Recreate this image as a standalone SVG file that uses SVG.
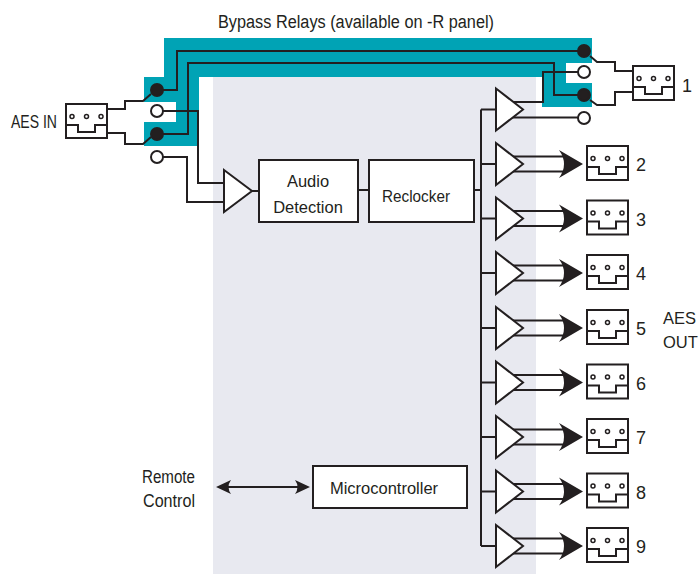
<svg xmlns="http://www.w3.org/2000/svg" xmlns:xlink="http://www.w3.org/1999/xlink" width="699" height="574" viewBox="0 0 699 574">
<style>
.w{fill:none;stroke:#231f20;stroke-width:2}
.box{fill:#fff;stroke:#231f20;stroke-width:2}
.amp{fill:#fff;stroke:#231f20;stroke-width:2;stroke-linejoin:miter}
.on{fill:#231f20;stroke:#231f20;stroke-width:2}
.off{fill:#fff;stroke:#231f20;stroke-width:2}
.ah{fill:#231f20}
.t{font-family:"Liberation Sans",Arial,sans-serif;fill:#231f20}
.lg{font-size:18px}
.md{font-size:16.5px}
</style>
<defs>
<symbol id="conn" overflow="visible">
<rect x="0" y="0" width="41" height="34" fill="#fff" stroke="#231f20" stroke-width="2"/>
<path d="M0,21H12V28H29V21H41" fill="none" stroke="#231f20" stroke-width="2"/>
<circle cx="6" cy="12.5" r="2" fill="#fff" stroke="#231f20" stroke-width="1.5"/>
<circle cx="20.5" cy="12.5" r="2" fill="#fff" stroke="#231f20" stroke-width="1.5"/>
<circle cx="35" cy="12.5" r="2" fill="#fff" stroke="#231f20" stroke-width="1.5"/>
</symbol>
</defs>

<!-- backgrounds -->
<rect x="213" y="77" width="323" height="497" fill="#e8e9f0"/>
<path d="M164,38H592V63H566V83H592V107H542V77H199V146H144V122H176V102H144V77H164Z" fill="#00a3b5"/>

<text class="t lg" x="218" y="28" textLength="276" lengthAdjust="spacingAndGlyphs">Bypass Relays (available on -R panel)</text>

<g id="connectors">
<!-- AES IN to left relay -->
<path class="w" d="M108,109H125V101H143L151,94"/>
<path class="w" d="M108,133H125V144H143L151,137"/>
<!-- left relay contacts -->
<path class="w" d="M157,90H177V51H584"/>
<path class="w" d="M157,134H188V63H554V95H584"/>
<path class="w" d="M157,111H198V183H226"/>
<path class="w" d="M157,157H187V202H226"/>
<!-- input amp to boxes -->
<path class="w" d="M252,191H259"/>
<path class="w" d="M358,190H369"/>
<path class="w" d="M474,190H481"/>
<!-- bus -->
<path class="w" d="M481,109.5V546"/>
<path class="w" d="M481,109.5H496M481,164H496M481,218.5H496M481,273H496M481,328H496M481,382.5H496M481,437H496M481,491.5H496M481,546H496"/>
<!-- amp 1 to right relay -->
<path class="w" d="M508,102H543V72H584"/>
<path class="w" d="M508,117.5H584"/>
<!-- right relay to connector 1 -->
<path class="w" d="M590,56L597,62H615V71H633"/>
<path class="w" d="M590,100L597,105H615V92H633"/>
<!-- outputs 2..9 -->
<path class="w" d="M508,156.5H565M508,171.5H565"/>
<path class="w" d="M508,211H565M508,226H565"/>
<path class="w" d="M508,265.5H565M508,280.5H565"/>
<path class="w" d="M508,320.5H565M508,335.5H565"/>
<path class="w" d="M508,375H565M508,390H565"/>
<path class="w" d="M508,429.5H565M508,444.5H565"/>
<path class="w" d="M508,484H565M508,499H565"/>
<path class="w" d="M508,538.5H565M508,553.5H565"/>
<path class="ah" d="M559,150L583,164L559,178Q569,164 559,150Z"/>
<path class="ah" d="M559,204.5L583,218.5L559,232.5Q569,218.5 559,204.5Z"/>
<path class="ah" d="M559,259L583,273L559,287Q569,273 559,259Z"/>
<path class="ah" d="M559,314L583,328L559,342Q569,328 559,314Z"/>
<path class="ah" d="M559,368.5L583,382.5L559,396.5Q569,382.5 559,368.5Z"/>
<path class="ah" d="M559,423L583,437L559,451Q569,437 559,423Z"/>
<path class="ah" d="M559,477.5L583,491.5L559,505.5Q569,491.5 559,477.5Z"/>
<path class="ah" d="M559,532L583,546L559,560Q569,546 559,532Z"/>
<!-- remote control -->
<path class="w" d="M222,487H304"/>
<path class="ah" d="M216,487L231,480Q226,487 231,494Z"/>
<path class="ah" d="M310,487L295,480Q300,487 295,494Z"/>
</g>

<g id="aes-in">
<use xlink:href="#conn" x="66" y="104"/>
<text class="t lg" x="11" y="128" textLength="46" lengthAdjust="spacingAndGlyphs">AES IN</text>
</g>

<g id="relay-in">
<circle class="on" cx="157" cy="90" r="6"/>
<circle class="off" cx="157" cy="111" r="6"/>
<circle class="on" cx="157" cy="134" r="6"/>
<circle class="off" cx="157" cy="157" r="6"/>
</g>

<g id="relay-out">
<circle class="on" cx="584" cy="51" r="6"/>
<circle class="off" cx="584" cy="72" r="6"/>
<circle class="on" cx="584" cy="95" r="6"/>
<circle class="off" cx="584" cy="118" r="6"/>
</g>

<g id="input-amp">
<polygon class="amp" points="224,170 252,191 224,212"/>
</g>

<g id="audio-detection">
<rect class="box" x="259" y="160" width="99" height="62"/>
<text class="t md" x="308" y="187" text-anchor="middle">Audio</text>
<text class="t md" x="308" y="213" text-anchor="middle">Detection</text>
</g>

<g id="reclocker">
<rect class="box" x="369" y="160" width="105" height="62"/>
<text class="t md" x="416" y="202" text-anchor="middle" textLength="68" lengthAdjust="spacingAndGlyphs">Reclocker</text>
</g>

<g id="microcontroller">
<rect class="box" x="313" y="466" width="154" height="42"/>
<text class="t md" x="384" y="494" text-anchor="middle">Microcontroller</text>
</g>

<g id="remote-control">
<text class="t lg" x="142" y="483" textLength="53" lengthAdjust="spacingAndGlyphs">Remote</text>
<text class="t lg" x="143" y="507" textLength="52" lengthAdjust="spacingAndGlyphs">Control</text>
</g>

<g id="amps">
<polygon class="amp" points="496,88.5 523,109.5 496,130.5"/>
<polygon class="amp" points="496,143 523,164 496,185"/>
<polygon class="amp" points="496,197.5 523,218.5 496,239.5"/>
<polygon class="amp" points="496,252 523,273 496,294"/>
<polygon class="amp" points="496,307 523,328 496,349"/>
<polygon class="amp" points="496,361.5 523,382.5 496,403.5"/>
<polygon class="amp" points="496,416 523,437 496,458"/>
<polygon class="amp" points="496,470.5 523,491.5 496,512.5"/>
<polygon class="amp" points="496,525 523,546 496,567"/>
</g>

<g id="out-1"><use xlink:href="#conn" x="633" y="66"/><text class="t lg" x="682" y="92">1</text></g>
<g id="out-2"><use xlink:href="#conn" x="587" y="146"/><text class="t lg" x="636" y="171">2</text></g>
<g id="out-3"><use xlink:href="#conn" x="587" y="200.5"/><text class="t lg" x="636" y="225.5">3</text></g>
<g id="out-4"><use xlink:href="#conn" x="587" y="255"/><text class="t lg" x="636" y="280">4</text></g>
<g id="out-5"><use xlink:href="#conn" x="587" y="310"/><text class="t lg" x="636" y="335">5</text></g>
<g id="out-6"><use xlink:href="#conn" x="587" y="364.5"/><text class="t lg" x="636" y="389.5">6</text></g>
<g id="out-7"><use xlink:href="#conn" x="587" y="419"/><text class="t lg" x="636" y="444">7</text></g>
<g id="out-8"><use xlink:href="#conn" x="587" y="473.5"/><text class="t lg" x="636" y="498.5">8</text></g>
<g id="out-9"><use xlink:href="#conn" x="587" y="528"/><text class="t lg" x="636" y="553">9</text></g>

<g id="aes-out">
<text class="t md" x="663" y="324">AES</text>
<text class="t md" x="663" y="348">OUT</text>
</g>
</svg>
